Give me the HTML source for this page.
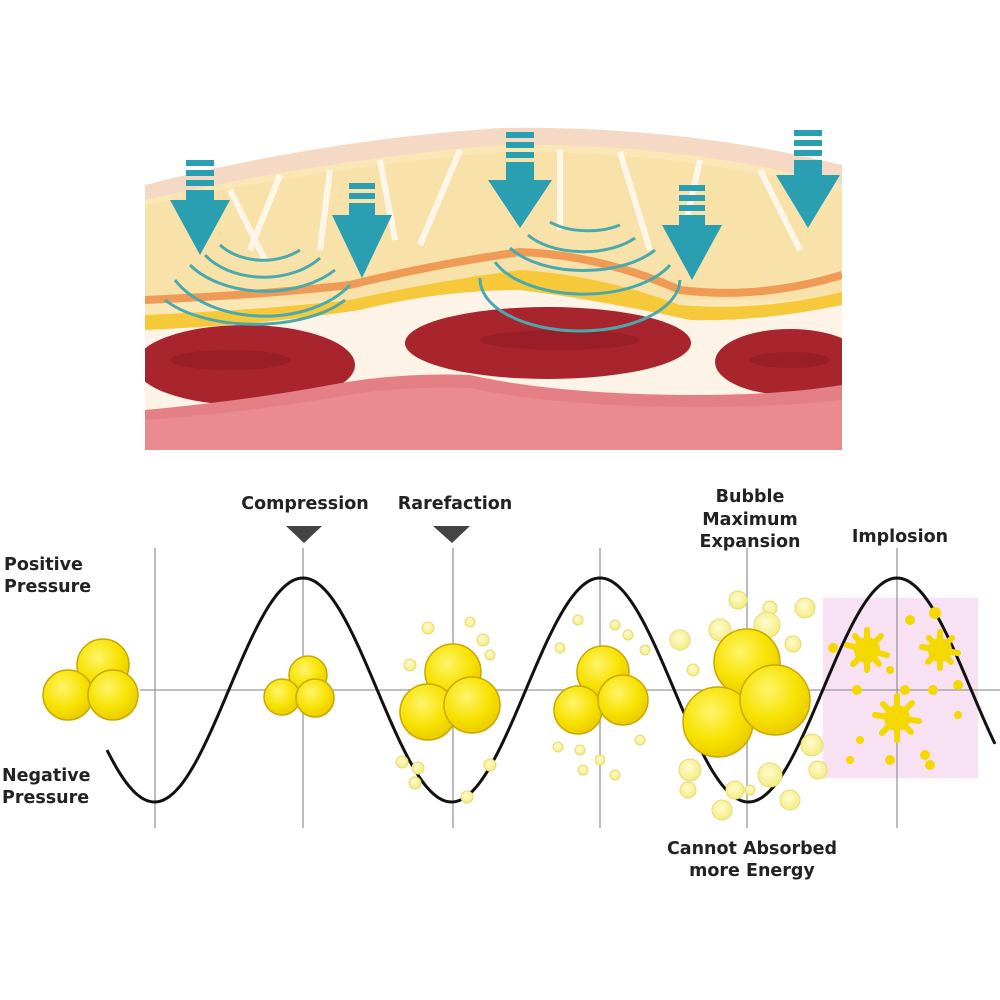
<!DOCTYPE html>
<html><head><meta charset="utf-8"><style>
html,body{margin:0;padding:0;background:#fff;width:1000px;height:1000px;overflow:hidden}
svg{display:block}
text{font-family:"DejaVu Sans","Liberation Sans",sans-serif;font-size:17.5px;fill:#222;font-weight:bold}
</style></head><body>
<svg width="1000" height="1000" viewBox="0 0 1000 1000" xmlns="http://www.w3.org/2000/svg">
<defs>
<radialGradient id="yb" cx="0.4" cy="0.35" r="0.7">
<stop offset="0" stop-color="#fff46a"/><stop offset="0.6" stop-color="#f7e200"/><stop offset="1" stop-color="#e8c800"/></radialGradient>
<radialGradient id="sb" cx="0.45" cy="0.4" r="0.6">
<stop offset="0" stop-color="#fffbd0"/><stop offset="1" stop-color="#f3ec80"/></radialGradient>
<clipPath id="cl"><rect x="145" y="120" width="697" height="330"/></clipPath>
</defs>
<!-- top illustration -->
<g clip-path="url(#cl)">
<path d="M145 185 Q320 140 500 128 Q680 125 842 165 L842 450 L145 450Z" fill="#f6d9c4"/>
<path d="M145 200 Q320 160 500 145 Q680 142 842 185 L842 450 L145 450Z" fill="#fbe7b6"/>
<path d="M145 205 Q320 168 500 152 Q680 150 842 192 L842 300 L145 300Z" fill="#f9dfa0" opacity="0.6"/>
<g stroke="#fffaf0" stroke-width="6" fill="none" opacity="0.9">
<path d="M230 190 L265 260"/><path d="M280 175 L250 250"/><path d="M380 160 L395 240"/><path d="M460 150 L420 245"/><path d="M560 150 L560 230"/><path d="M620 152 L650 250"/><path d="M700 160 L680 250"/><path d="M760 170 L800 250"/><path d="M330 170 L320 250"/>
</g>
<path d="M145 300 Q260 295 350 285 Q430 265 520 252 Q600 255 680 290 Q760 300 842 275" stroke="#ef9a55" stroke-width="8" fill="none"/>
<path d="M145 315 Q260 310 350 300 Q430 282 520 270 Q600 275 680 305 Q760 312 842 292 L842 345 L145 345Z" fill="#f5c93a"/>
<path d="M145 330 Q260 325 360 310 Q440 290 520 290 Q600 300 690 320 Q760 322 842 305 L842 460 L145 460Z" fill="#fdf3e6"/>
<ellipse cx="245" cy="365" rx="110" ry="40" fill="#a9252e"/>
<ellipse cx="548" cy="343" rx="143" ry="36" fill="#a9252e"/>
<ellipse cx="790" cy="362" rx="75" ry="33" fill="#a9252e"/>
<g fill="#8c1820" opacity="0.5"><ellipse cx="230" cy="360" rx="60" ry="10"/><ellipse cx="560" cy="340" rx="80" ry="10"/><ellipse cx="790" cy="360" rx="40" ry="8"/></g>
<path d="M145 410 Q250 400 330 385 Q400 372 470 375 Q560 395 700 395 Q780 395 842 385 L842 450 L145 450Z" fill="#e57f86"/>
<path d="M145 420 Q250 412 330 398 Q400 385 470 388 Q560 407 700 407 Q780 407 842 400 L842 450 L145 450Z" fill="#e98b8f"/>
<g stroke="#4aa9ad" stroke-width="3" fill="none">
<path d="M220 245 A55 40 0 0 0 300 250"/><path d="M205 255 A70 48 0 0 0 320 258"/><path d="M190 265 A90 58 0 0 0 335 270"/><path d="M175 280 A100 65 0 0 0 350 285"/><path d="M165 300 A105 50 0 0 0 345 300"/>
<path d="M550 222 A50 25 0 0 0 620 225"/><path d="M528 235 A65 35 0 0 0 635 238"/><path d="M510 248 A85 45 0 0 0 655 250"/><path d="M495 262 A95 50 0 0 0 670 265"/><path d="M480 278 A100 52 0 0 0 680 280"/>
</g>
<g fill="#2a9fb2">
<g transform="translate(200,0)"><rect x="-14" y="160" width="28" height="6"/><rect x="-14" y="170" width="28" height="6"/><rect x="-14" y="180" width="28" height="6"/><rect x="-14" y="190" width="28" height="10"/><path d="M-30 200 L30 200 L0 255Z"/></g>
<g transform="translate(362,0)"><rect x="-13" y="183" width="26" height="6"/><rect x="-13" y="193" width="26" height="6"/><rect x="-13" y="203" width="26" height="12"/><path d="M-30 215 L30 215 L0 278Z"/></g>
<g transform="translate(520,0)"><rect x="-14" y="132" width="28" height="6"/><rect x="-14" y="142" width="28" height="6"/><rect x="-14" y="152" width="28" height="6"/><rect x="-14" y="162" width="28" height="18"/><path d="M-32 180 L32 180 L0 228Z"/></g>
<g transform="translate(692,0)"><rect x="-13" y="185" width="26" height="6"/><rect x="-13" y="195" width="26" height="6"/><rect x="-13" y="205" width="26" height="6"/><rect x="-13" y="215" width="26" height="10"/><path d="M-30 225 L30 225 L0 280Z"/></g>
<g transform="translate(808,0)"><rect x="-14" y="130" width="28" height="6"/><rect x="-14" y="140" width="28" height="6"/><rect x="-14" y="150" width="28" height="6"/><rect x="-14" y="160" width="28" height="15"/><path d="M-32 175 L32 175 L0 228Z"/></g>
</g>
</g>
<!-- graph -->
<rect x="823" y="598" width="155" height="180" fill="#f8e1f2"/>
<g stroke="#999" stroke-width="1.3">
<line x1="140" y1="690" x2="1000" y2="690"/>
<line x1="155" y1="548" x2="155" y2="828"/><line x1="303" y1="548" x2="303" y2="828"/><line x1="453" y1="548" x2="453" y2="828"/><line x1="600" y1="548" x2="600" y2="828"/><line x1="747" y1="548" x2="747" y2="828"/><line x1="897" y1="548" x2="897" y2="828"/>
</g>
<path id="wave" fill="none" stroke="#111" stroke-width="3"/>
<g fill="url(#sb)" stroke="#e5dc70" stroke-width="1">
<circle cx="410" cy="665" r="6"/><circle cx="428" cy="628" r="6"/><circle cx="483" cy="640" r="6"/><circle cx="490" cy="655" r="5"/><circle cx="402" cy="762" r="6"/><circle cx="418" cy="768" r="6"/><circle cx="415" cy="783" r="6"/><circle cx="467" cy="797" r="6"/><circle cx="490" cy="765" r="6"/><circle cx="470" cy="622" r="5"/>
<circle cx="578" cy="620" r="5"/><circle cx="615" cy="625" r="5"/><circle cx="628" cy="635" r="5"/><circle cx="560" cy="648" r="5"/><circle cx="558" cy="747" r="5"/><circle cx="580" cy="750" r="5"/><circle cx="600" cy="760" r="5"/><circle cx="583" cy="770" r="5"/><circle cx="615" cy="775" r="5"/><circle cx="640" cy="740" r="5"/><circle cx="645" cy="650" r="5"/>
<circle cx="738" cy="600" r="9"/><circle cx="770" cy="608" r="7"/><circle cx="805" cy="608" r="10"/><circle cx="720" cy="630" r="11"/><circle cx="767" cy="625" r="13"/><circle cx="680" cy="640" r="10"/><circle cx="793" cy="644" r="8"/><circle cx="693" cy="670" r="6"/><circle cx="812" cy="745" r="11"/><circle cx="818" cy="770" r="9"/><circle cx="690" cy="770" r="11"/><circle cx="688" cy="790" r="8"/><circle cx="735" cy="790" r="9"/><circle cx="770" cy="775" r="12"/><circle cx="790" cy="800" r="10"/><circle cx="722" cy="810" r="10"/><circle cx="750" cy="790" r="5"/>
</g>
<g fill="#f4d800">
<circle cx="833" cy="648" r="5"/><circle cx="910" cy="620" r="5"/><circle cx="935" cy="613" r="6"/><circle cx="857" cy="690" r="5"/><circle cx="905" cy="690" r="5"/><circle cx="933" cy="690" r="5"/><circle cx="958" cy="685" r="5"/><circle cx="890" cy="670" r="4"/><circle cx="860" cy="740" r="4"/><circle cx="925" cy="755" r="5"/><circle cx="890" cy="760" r="5"/><circle cx="930" cy="765" r="5"/><circle cx="850" cy="760" r="4"/><circle cx="958" cy="715" r="4"/>
</g>
<g fill="#f4d800" stroke="#f4d800" stroke-linecap="round" stroke-width="6">
<g transform="translate(867,650)"><circle r="10"/><line x1="0" y1="-20" x2="0" y2="20"/><line x1="-20" y1="-5" x2="20" y2="5"/><line x1="-14" y1="14" x2="14" y2="-14"/><line x1="-12" y1="-14" x2="12" y2="14"/></g>
<g transform="translate(940,650)"><circle r="9"/><line x1="0" y1="-18" x2="0" y2="18"/><line x1="-18" y1="-3" x2="18" y2="3"/><line x1="-12" y1="12" x2="12" y2="-12"/><line x1="-11" y1="-12" x2="11" y2="12"/></g>
<g transform="translate(897,718)"><circle r="10"/><line x1="0" y1="-22" x2="0" y2="22"/><line x1="-22" y1="-3" x2="22" y2="3"/><line x1="-15" y1="15" x2="15" y2="-15"/><line x1="-14" y1="-14" x2="14" y2="14"/></g>
</g>
<g fill="url(#yb)" stroke="#c9a800" stroke-width="1.5">
<circle cx="103" cy="665" r="26"/><circle cx="68" cy="695" r="25"/><circle cx="113" cy="695" r="25"/>
<circle cx="308" cy="675" r="19"/><circle cx="282" cy="697" r="18"/><circle cx="315" cy="698" r="19"/>
<circle cx="453" cy="672" r="28"/><circle cx="428" cy="712" r="28"/><circle cx="472" cy="705" r="28"/>
<circle cx="603" cy="672" r="26"/><circle cx="578" cy="710" r="24"/><circle cx="623" cy="700" r="25"/>
<circle cx="747" cy="662" r="33"/><circle cx="718" cy="722" r="35"/><circle cx="775" cy="700" r="35"/>
</g>
<path d="M286 526 L322 526 L304 543Z" fill="#444"/>
<path d="M433 526 L470 526 L452 543Z" fill="#444"/>
<text x="305" y="509" text-anchor="middle">Compression</text>
<text x="455" y="509" text-anchor="middle">Rarefaction</text>
<text x="750" y="502" text-anchor="middle">Bubble</text>
<text x="750" y="525" text-anchor="middle">Maximum</text>
<text x="750" y="547" text-anchor="middle">Expansion</text>
<text x="900" y="542" text-anchor="middle">Implosion</text>
<text x="4" y="570">Positive</text>
<text x="4" y="592">Pressure</text>
<text x="2" y="781">Negative</text>
<text x="2" y="803">Pressure</text>
<text x="752" y="854" text-anchor="middle">Cannot Absorbed</text>
<text x="752" y="876" text-anchor="middle">more Energy</text>
</svg>
<script>
var d="";for(var x=107;x<=995;x+=2){var y=690-112*Math.cos(2*Math.PI*(x-303)/297);d+=(x==107?"M":"L")+x+" "+y.toFixed(1)+" ";}
document.getElementById("wave").setAttribute("d",d);
</script>
</body></html>
